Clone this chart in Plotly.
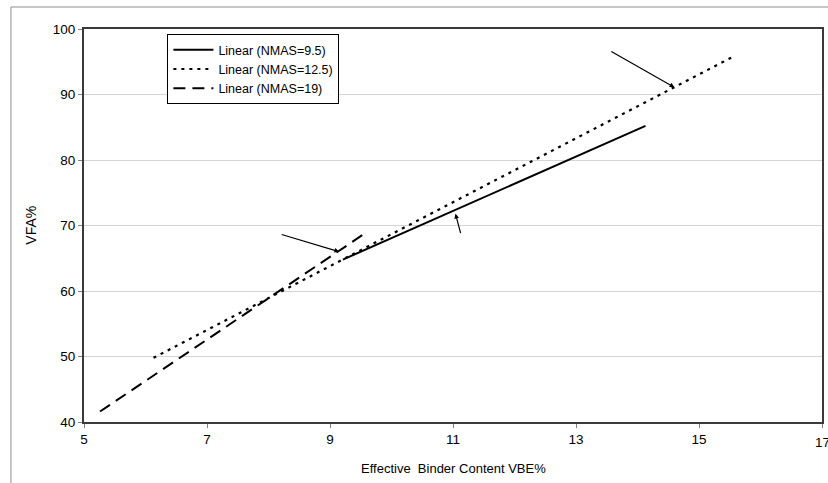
import plotly.graph_objects as go

# Linear trend lines of VFA% against effective binder content (VBE%), per NMAS
vbe_nmas_95 = [9.21, 14.13]
vfa_nmas_95 = [64.8, 85.2]

vbe_nmas_125 = [6.13, 15.54]
vfa_nmas_125 = [49.8, 95.7]

vbe_nmas_19 = [5.26, 9.60]
vfa_nmas_19 = [41.6, 69.0]

series_names = ["Linear (NMAS=9.5)", "Linear (NMAS=12.5)", "Linear (NMAS=19)"]

# Pointer arrows: (tail x, tail y, head x, head y) in data units
arrow_tail_x = [8.19, 11.13, 13.55]
arrow_tail_y = [68.7, 68.6, 96.7]
arrow_head_x = [9.15, 11.04, 14.60]
arrow_head_y = [66.0, 71.8, 91.1]

x_ticks = [5, 7, 9, 11, 13, 15, 17]
y_ticks = [40, 50, 60, 70, 80, 90, 100]

FONT = "Liberation Sans, Arial, sans-serif"
TICK_SIZE = 13.5

fig = go.Figure()
fig.add_trace(go.Scatter(x=vbe_nmas_95, y=vfa_nmas_95, mode="lines", name=series_names[0],
                         line=dict(color="black", width=2, dash="solid")))
fig.add_trace(go.Scatter(x=vbe_nmas_125, y=vfa_nmas_125, mode="lines", name=series_names[1],
                         line=dict(color="black", width=2.2, dash="3px,5px")))
fig.add_trace(go.Scatter(x=vbe_nmas_19, y=vfa_nmas_19, mode="lines", name=series_names[2],
                         line=dict(color="black", width=2, dash="12px,7px")))

annotations = []
for tx, ty, hx, hy in zip(arrow_tail_x, arrow_tail_y, arrow_head_x, arrow_head_y):
    annotations.append(dict(x=hx, y=hy, ax=tx, ay=ty, xref="x", yref="y", axref="x", ayref="y",
                            text="", showarrow=True, arrowhead=2, arrowsize=0.8,
                            arrowwidth=1.2, arrowcolor="black"))

# The last x tick label sits on the page edge, where the axis would drop it
annotations.append(dict(text=str(x_ticks[-1]), x=x_ticks[-1], y=-0.027, xref="x", yref="paper",
                        xanchor="center", yanchor="top", showarrow=False,
                        font=dict(family=FONT, size=TICK_SIZE, color="black")))

# Axis titles
annotations.append(dict(text="Effective  Binder Content VBE%", x=0.5, y=-0.093,
                        xref="paper", yref="paper", xanchor="center", yanchor="top",
                        showarrow=False, font=dict(family=FONT, size=13, color="black")))
annotations.append(dict(text="VFA%", x=-0.073, y=0.5, xref="paper", yref="paper",
                        xanchor="center", yanchor="middle", textangle=-90,
                        showarrow=False, font=dict(family=FONT, size=14, color="black")))

fig.update_layout(
    width=828, height=483,
    margin=dict(l=84, r=6, t=29, b=61),
    paper_bgcolor="white", plot_bgcolor="white",
    font=dict(family=FONT, size=12, color="black"),
    showlegend=True,
    legend=dict(x=0.113, y=0.987, xanchor="left", yanchor="top",
                bgcolor="white", bordercolor="black", borderwidth=1,
                font=dict(family=FONT, size=12.5, color="black"),
                tracegroupgap=0, itemwidth=40),
    annotations=annotations,
    shapes=[
        # outer chart frame
        dict(type="line", xref="paper", yref="paper", x0=-0.099, x1=-0.099, y0=-0.2, y1=1.056,
             line=dict(color="#8c8c8c", width=1)),
        dict(type="line", xref="paper", yref="paper", x0=-0.099, x1=1.02, y0=1.056, y1=1.056,
             line=dict(color="#8c8c8c", width=1)),
    ],
)

fig.update_xaxes(range=[5, 17], tickvals=x_ticks, showgrid=False, zeroline=False,
                 automargin=False,
                 showline=True, linecolor="#3a3a3a", linewidth=2, mirror=True,
                 ticks="outside", ticklen=4, tickcolor="#808080",
                 tickfont=dict(family=FONT, size=TICK_SIZE, color="black"))
fig.update_yaxes(range=[40, 100], tickvals=y_ticks, showgrid=True, gridcolor="#d4d4d4",
                 gridwidth=1, zeroline=False, automargin=False,
                 showline=True, linecolor="#3a3a3a", linewidth=2, mirror=True,
                 ticks="outside", ticklen=4, tickcolor="#808080",
                 tickfont=dict(family=FONT, size=TICK_SIZE, color="black"))

fig.write_html("out.html")
